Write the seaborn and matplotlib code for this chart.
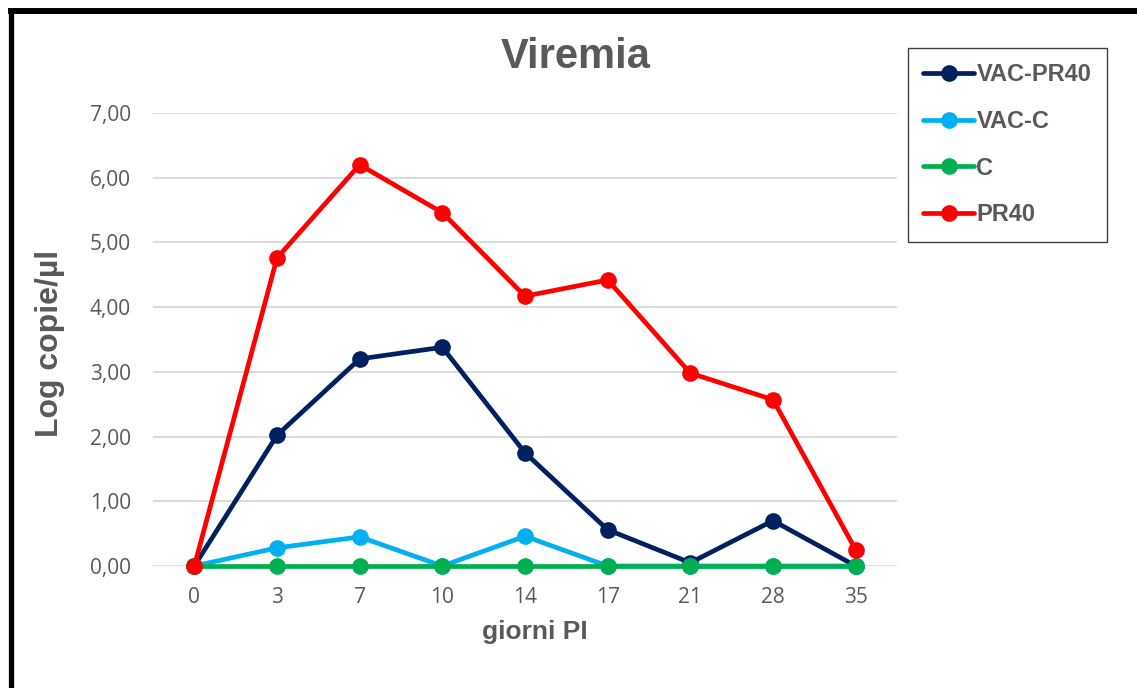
import matplotlib
matplotlib.use("Agg")
import matplotlib.pyplot as plt
from matplotlib.lines import Line2D
import seaborn as sns
import pandas as pd

days = ["0", "3", "7", "10", "14", "17", "21", "28", "35"]
vac_pr40 = [0.0, 2.02, 3.20, 3.38, 1.75, 0.56, 0.05, 0.70, 0.0]
vac_c = [0.0, 0.28, 0.45, 0.0, 0.46, 0.0, 0.0, 0.0, 0.0]
c_ctrl = [0.0, 0.0, 0.0, 0.0, 0.0, 0.0, 0.0, 0.0, 0.0]
pr40 = [0.0, 4.76, 6.20, 5.46, 4.17, 4.42, 2.98, 2.57, 0.25]
series_names = ["VAC-PR40", "VAC-C", "C", "PR40"]
colors = ["#002060", "#00B0F0", "#00B050", "#FF0000"]
yticks = [0, 1, 2, 3, 4, 5, 6, 7]
title = "Viremia"
xlabel = "giorni PI"
ylabel = "Log copie/µl"

frames = []
for name, vals in zip(series_names, [vac_pr40, vac_c, c_ctrl, pr40]):
    frames.append(pd.DataFrame({"giorni": days, "val": vals, "serie": name}))
df = pd.concat(frames, ignore_index=True)

sns.set_theme(style="white")
plt.rcParams["font.family"] = ["Open Sans", "DejaVu Sans"]
bold_family = ["Liberation Sans", "DejaVu Sans"]
gray = "#595959"

fig = plt.figure(figsize=(11.37, 6.88), dpi=100)
W, H = 1137, 688
ax = fig.add_axes([153 / W, 1 - 566 / H, (897 - 153) / W, (566 - 113) / H])

for i, name in enumerate(series_names):
    sub = df[df["serie"] == name]
    sns.lineplot(data=sub, x="giorni", y="val", ax=ax, color=colors[i],
                 linewidth=3.4, marker="o", markersize=12, markeredgewidth=0,
                 label=name, sort=False, zorder=3 + i, clip_on=False)

ax.set_xlim(-0.5, len(days) - 0.5)
ax.set_ylim(0, 7)
ax.set_yticks(yticks)
ax.set_yticklabels([f"{v:.2f}".replace(".", ",") for v in yticks])
ax.set_xticks(range(len(days)))
ax.set_xticklabels(days)
ax.tick_params(axis="y", length=0, pad=16, labelsize=15, labelcolor=gray)
ax.tick_params(axis="x", length=0, pad=15, labelsize=15, labelcolor=gray)
ax.grid(axis="y", color="#D9D9D9", linewidth=1.3)
ax.grid(axis="x", visible=False)
for s in ax.spines.values():
    s.set_visible(False)
ax.set_axisbelow(True)

ax.set_xlabel(xlabel, fontsize=19, fontweight="bold", color=gray, family=bold_family)
ax.xaxis.set_label_coords((535 - 153) / 744, (566 - 620) / 453)
ax.set_ylabel(ylabel, fontsize=23, fontweight="bold", color=gray, family=bold_family)
ax.yaxis.set_label_coords((65 - 153) / 744, (566 - 343) / 453)

fig.text(576 / W, 1 - 57 / H, title, ha="center", va="center",
         fontsize=30, fontweight="bold", color=gray, family=bold_family)

handles, labels = ax.get_legend_handles_labels()
leg = ax.legend(handles, labels, loc="upper left",
                bbox_to_anchor=(908 / W, 1 - 48 / H), bbox_transform=fig.transFigure,
                borderaxespad=0, fancybox=False, frameon=True, framealpha=1,
                edgecolor="#404040", handlelength=2.15, handletextpad=0.1,
                labelspacing=1.0, borderpad=0.65,
                prop={"size": 17, "weight": "bold", "family": bold_family})
leg.get_frame().set_linewidth(1.0)
for t in leg.get_texts():
    t.set_color(gray)

fig.add_artist(Line2D([8 / W, 1.0], [1 - 11 / H, 1 - 11 / H], color="black",
                      linewidth=4.3, transform=fig.transFigure, solid_capstyle="butt"))
fig.add_artist(Line2D([10.5 / W, 10.5 / W], [1 - 8 / H, 0.0], color="black",
                      linewidth=3.8, transform=fig.transFigure, solid_capstyle="butt"))

fig.savefig("out.png", dpi=100)
